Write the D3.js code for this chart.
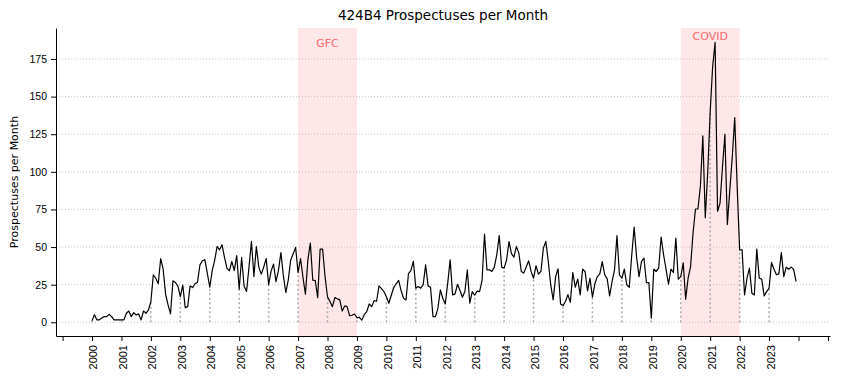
<!DOCTYPE html>
<html>
<head>
<meta charset="utf-8">
<script src="https://cdn.jsdelivr.net/npm/d3@7"></script>
<style>
  body { margin: 0; background: #fff; }
  svg { font-family: "DejaVu Sans", sans-serif; }
</style>
</head>
<body>
<svg id="prospectusesPerMonthChart" width="841" height="384"></svg>
<script>
// monthly 424B4 filings, Jan 2000 .. Dec 2023
const startYear = 2000;
const monthlyCounts = [
  1.1, 5.1, 1.6, 1.6, 2.9, 3.8, 3.8, 5.3, 3.8, 1.6, 1.6, 1.6,
  1.6, 1.6, 6, 7.5, 3.8, 6.4, 4.9, 5.6, 1.6, 7.5, 6, 8.2,
  13.8, 31.6, 29.3, 25.6, 42.4, 35.3, 18.7, 11.6, 5.6, 27.6, 26.4, 24.2,
  17.1, 24.7, 9.8, 10.4, 24.2, 23.1, 25.6, 26.7, 38.2, 40.9, 41.6, 32.7,
  23.3, 34.4, 41.1, 50.4, 48.2, 51.6, 43.3, 36, 34.2, 40.4, 34.4, 44.4,
  22, 43, 24, 20.5, 36.7, 53.8, 30.4, 50.4, 36.7, 32, 36.7, 42.4,
  25, 34, 38.7, 27, 34.4, 46.4, 31, 19.8, 28, 41.5, 45.5, 49.8,
  33, 42.4, 29.8, 18.7, 41.5, 52.7, 28, 27.8, 16.4, 48.7, 48.7, 30.4,
  17, 13.8, 10.4, 16.4, 15.6, 14.9, 7.5, 10.9, 10.4, 4.4, 4.7, 5.5,
  3.1, 3.3, 1.5, 5.1, 7.1, 12.2, 10.4, 14.4, 14, 24.2, 22.4, 20.4,
  17, 12.7, 18, 23.1, 25.6, 27.8, 21, 16, 14.9, 32.3, 34.4, 40.6,
  22.7, 23.8, 22.7, 25, 38.2, 24.2, 23.3, 3.8, 3.8, 9.3, 21.5, 16,
  12.2, 26, 41.5, 18.2, 18.9, 25.3, 21.1, 16.7, 20.4, 34.9, 12.7, 20.4,
  18, 20.7, 20.4, 27.8, 58.7, 34.9, 34.9, 33.8, 36.7, 44.9, 57.6, 36.7,
  36, 41.5, 53.6, 45.6, 43.3, 50.4, 46, 33.8, 32.7, 36.7, 40.9, 33.8,
  29.3, 37.6, 32, 33.8, 49.3, 53.8, 40.4, 24.9, 14.9, 30.4, 35.6, 12.2,
  11.1, 13.8, 18.4, 13.3, 33.1, 23.3, 28.7, 18.2, 35.3, 33.8, 20.9, 29.3,
  16.7, 25.6, 30.4, 32.2, 40.4, 31.6, 28.9, 17.6, 27.1, 34.9, 57.6, 31.6,
  29.3, 35.3, 24.9, 23.3, 44.2, 63.3, 43.3, 30.4, 40.4, 42.7, 26.4, 26.4,
  2.7, 35.3, 33.8, 36, 56.7, 44.9, 35.3, 25.3, 35.3, 33.1, 56, 28.7,
  30.4, 39.5, 15.4, 29.3, 37, 59, 75.3, 75.3, 90.4, 124, 69.5, 100,
  140, 170, 186, 73.8, 79, 103, 125, 65, 88, 110, 136, 90,
  48.2, 48.2, 18.2, 29.3, 36, 19.3, 18.2, 48.7, 29.3, 28.7, 17.6, 20.4,
  22.7, 39.8, 35.3, 31.6, 32.2, 46.4, 30.4, 36.7, 35.3, 36.7, 35.3, 27.1
];
const tickYears = d3.range(1999, 2026);
const labelledYears = d3.range(2000, 2024);
const yTicks = [0, 25, 50, 75, 100, 125, 150, 175];
const eventNames = ["GFC", "COVID"];
const eventStarts = [2007, 2020];
const eventEnds = [2009, 2022];

const drawProspectusChart = () => {
  var svg = d3.select("#prospectusesPerMonthChart"),
    margin = { top: 28, right: 11, bottom: 48, left: 56 },
    width = +svg.attr("width") - margin.left - margin.right,
    height = +svg.attr("height") - margin.top - margin.bottom;

  var months = monthlyCounts.map(function(v, i) {
    return { t: startYear + i / 12, value: v };
  });

  var x = d3.scaleLinear().domain([1998.777, 2025.07]).range([0, width]);
  var y = d3.scaleLinear().domain([-9.1, 195.6]).range([height, 0]);

  var g = svg
    .append("g")
    .attr("transform", "translate(" + margin.left + "," + margin.top + ")");

  // event shading
  eventNames.forEach(function(name, i) {
    g.append("rect")
      .attr("x", x(eventStarts[i]))
      .attr("y", 0)
      .attr("width", x(eventEnds[i]) - x(eventStarts[i]))
      .attr("height", height)
      .attr("fill", "#ff1a2a")
      .attr("fill-opacity", 0.11);
  });

  // horizontal grid
  g.selectAll(".hgrid")
    .data(yTicks)
    .enter()
    .append("line")
    .attr("class", "hgrid")
    .attr("x1", 0)
    .attr("x2", width)
    .attr("y1", function(d) { return y(d); })
    .attr("y2", function(d) { return y(d); })
    .attr("stroke", "#b8b8b8")
    .attr("stroke-width", 0.8)
    .attr("stroke-dasharray", "1,2");

  // january markers
  var januaries = months.filter(function(d, i) { return i % 12 === 0; });
  g.selectAll(".janLine")
    .data(januaries)
    .enter()
    .append("line")
    .attr("class", "janLine")
    .attr("x1", function(d) { return x(d.t); })
    .attr("x2", function(d) { return x(d.t); })
    .attr("y1", y(0))
    .attr("y2", function(d) { return y(d.value); })
    .attr("stroke", "#aaaaaa")
    .attr("stroke-width", 1.5)
    .attr("stroke-dasharray", "2,2.5");

  var line = d3.line()
    .x(function(d) { return x(d.t); })
    .y(function(d) { return y(d.value); });

  g.append("path")
    .datum(months)
    .attr("fill", "none")
    .attr("stroke", "#000")
    .attr("stroke-width", 1.2)
    .attr("stroke-linejoin", "round")
    .attr("d", line);

  // event labels
  var labelOffsets = [19, 12];
  eventNames.forEach(function(name, i) {
    g.append("text")
      .attr("x", x((eventStarts[i] + eventEnds[i]) / 2))
      .attr("y", labelOffsets[i])
      .attr("text-anchor", "middle")
      .attr("font-size", 11)
      .attr("fill", "#ff6b6b")
      .text(name);
  });

  var xAxis = g.append("g")
    .attr("class", "x axis")
    .attr("transform", "translate(0," + height + ")")
    .call(
      d3.axisBottom(x)
        .tickValues(tickYears)
        .tickFormat(function(d) {
          return labelledYears.indexOf(d) >= 0 ? String(d) : "";
        })
        .tickSize(5)
        .tickSizeOuter(0)
    );
  xAxis.selectAll("text")
    .attr("transform", "rotate(-90)")
    .attr("text-anchor", "end")
    .attr("x", -9)
    .attr("y", 0)
    .attr("dy", "0.45em")
    .attr("font-size", 11)
    .attr("fill", "#000");

  var yAxis = g.append("g")
    .attr("class", "y axis")
    .call(
      d3.axisLeft(y)
        .tickValues(yTicks)
        .tickSize(5)
        .tickPadding(4)
        .tickSizeOuter(0)
    );
  yAxis.selectAll("text").attr("font-size", 10.5).attr("fill", "#000");
  svg.selectAll(".axis .domain").attr("stroke", "#000");
  svg.selectAll(".axis .tick line").attr("stroke", "#000");

  svg.append("text")
    .attr("x", margin.left + width / 2)
    .attr("y", 20)
    .attr("text-anchor", "middle")
    .attr("font-size", 13.5)
    .text("424B4 Prospectuses per Month");

  svg.append("text")
    .attr("transform", "translate(18," + (margin.top + height / 2) + ") rotate(-90)")
    .attr("text-anchor", "middle")
    .attr("font-size", 11)
    .text("Prospectuses per Month");
};

drawProspectusChart();
</script>
</body>
</html>
